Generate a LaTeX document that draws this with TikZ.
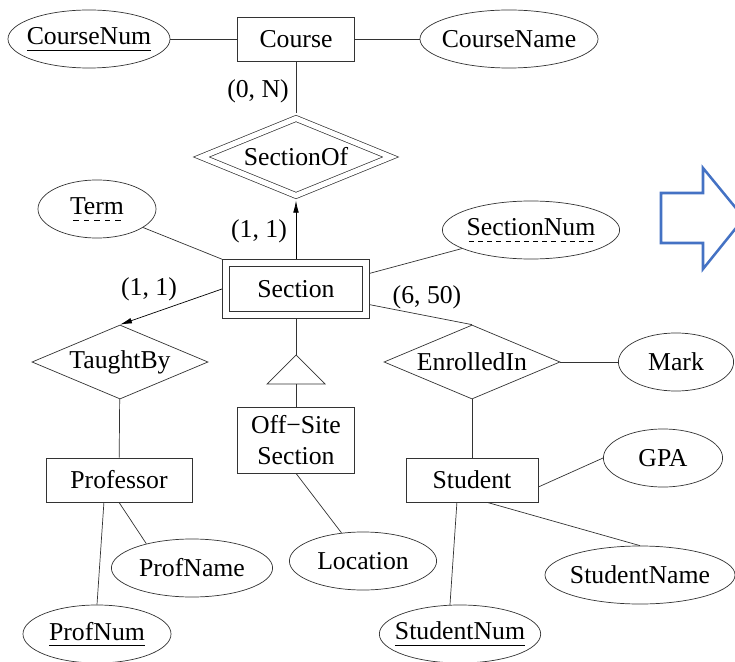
\documentclass[tikz,border=0pt]{standalone}
\usepackage{fontspec}
\setmainfont{Liberation Serif}
\usepackage{xcolor}
\usetikzlibrary{shapes,
	arrows.meta,
	positioning,
	calc}
\definecolor{arrowblue}{RGB}{68,114,196}
\newcommand{\keyattr}[1]{\setbox0\hbox{#1}\rlap{\copy0}\raisebox{-4.3pt}{\vrule width\wd0 height0.5pt depth0pt}}
\newcommand{\partkey}[1]{\setbox0\hbox{#1}\rlap{\copy0}\raisebox{-4.3pt}{\hbox to\wd0{\xleaders\hbox to 6.4pt{\hss\vrule width3.6pt height0.5pt depth0pt\hss}\hfill}}}

\begin{document}
\begin{tikzpicture}[x=0.025cm, y=-0.025cm, line width=0.5pt,
		font=\fontsize{18.3}{21.5}\selectfont,
		entity/.style={draw=black!80, rectangle, minimum height=1.1cm, inner sep=0pt},
		weakentity/.style={entity, double, double distance=0.15cm, outer sep=0.1cm},
		attr/.style={draw=black!80, ellipse, minimum height=1.45cm, inner xsep=-0.2cm, inner ysep=0pt},
		rel/.style={draw=black!80, diamond, aspect=2.4, minimum width=4.4cm, minimum height=1.85cm, inner sep=0pt},
		weakrel/.style={rel, double, double distance=0.13cm, minimum width=4.8cm, minimum height=2cm, outer sep=0.09cm},
		link/.style={draw=black!80},
		role/.style={draw=black, -{Latex[length=0.3cm, width=0.14cm]}},
		card/.style={inner sep=0pt}]
	\useasboundingbox (0,0) rectangle (735,662);

	\node (course) [entity, minimum width=2.93cm] at (296,39) {Course};
	\node (coursenum) [attr, minimum width=4.05cm] at (89,39) {\keyattr{CourseNum}};
	\node (coursename) [attr, minimum width=4.45cm] at (509,39) {CourseName};
	\node (sectionof) [weakrel] at (296,157) {SectionOf};
	\node (section) [weakentity, minimum width=3.5cm, minimum height=1.29cm] at (296,289) {Section};
	\node (term) [attr, minimum width=2.95cm] at (97,209) {\partkey{Term}};
	\node (sectionnum) [attr, minimum width=4.43cm] at (531,230) {\partkey{SectionNum}};
	\node (taughtby) [rel] at (120,362) {TaughtBy};
	\node (enrolledin) [rel] at (472,362) {EnrolledIn};
	\node (mark) [attr, minimum width=2.88cm] at (676,362) {Mark};
	\node (offsite) [entity, minimum width=2.93cm, minimum height=1.65cm, align=center] at (296,440) {Off−Site\\Section};
	\node (location) [attr, minimum width=3.68cm] at (363,561) {Location};
	\node (professor) [entity, minimum width=3.65cm] at (119,480) {Professor};
	\node (profname) [attr, minimum width=4.03cm] at (192,568) {ProfName};
	\node (profnum) [attr, minimum width=3.7cm] at (97,634) {\keyattr{ProfNum}};
	\node (student) [entity, minimum width=3.3cm] at (472,480) {Student};
	\node (gpa) [attr, minimum width=2.98cm] at (663,458) {GPA};
	\node (studentname) [attr, minimum width=4.75cm] at (640,575) {StudentName};
	\node (studentnum) [attr, minimum width=3.88cm] at (460,634) {\keyattr{StudentNum}};

	\node (cardcourse) [card] at (258,91) {(0, N)};
	\node (cardsection) [card] at (259,231) {(1, 1)};
	\node (cardtaught) [card] at (149,289) {(1, 1)};
	\node (cardenrolled) [card] at (427,297) {(6, 50)};

	\coordinate (isa) at (296,355);
	\coordinate (isabase) at (296,384);
	\draw[link] (isa) -- ++(29,29) -- ++(-58,0) -- cycle;

	\draw[link] (coursenum) -- (course);
	\draw[link] (course) -- (coursename);
	\draw[link] (course) -- (sectionof);
	\draw[role] (section.north) -- (sectionof.south);
	\draw[link] (term) -- (section.north west);
	\draw[link] (section.12) -- (sectionnum);
	\draw[role] (section.west) -- (taughtby.north);
	\draw[link] (section.-12) -- (enrolledin.north);
	\draw[link] (section) -- (isa);
	\draw[link] (isabase) -- (offsite);
	\draw[link] (offsite.south) -- (location);
	\draw[link] (taughtby) -- (professor);
	\draw[link] (professor.south) -- (profname.152);
	\draw[link] (professor.236) -- (profnum.north);
	\draw[link] (enrolledin) -- (mark);
	\draw[link] (enrolledin) -- (student);
	\draw[link] (student.-6) -- (gpa.west);
	\draw[link] (student.304) -- (studentname.north);
	\draw[link] (student.236) -- (studentnum.109);

	\begin{scope}
		\clip (0,0) rectangle (735,662);
		\draw[arrowblue, line width=1.8pt, line join=miter] (661,193) -- (703,193) -- (703,168) -- (744,218)
			-- (703,269) -- (703,243) -- (661,243) -- cycle;
	\end{scope}
\end{tikzpicture}
\end{document}
